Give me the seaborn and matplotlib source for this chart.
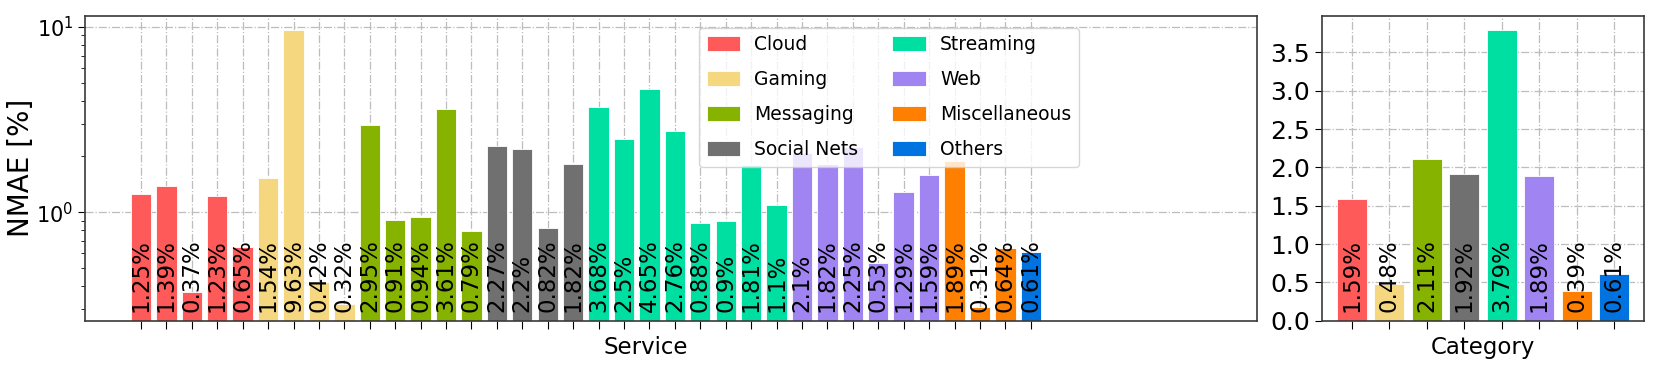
import numpy as np
import pandas as pd
import seaborn as sns
import matplotlib.pyplot as plt
from matplotlib import transforms

# NMAE per service (left) and per category (right)

categories = ['Cloud', 'Gaming', 'Messaging', 'Social Nets',
              'Streaming', 'Web', 'Miscellaneous', 'Others']
colors = ['#ff5a5a', '#f5d77f', '#86b300', '#707070',
          '#00dfa2', '#a084f2', '#ff8000', '#0073e0']

cloud = [1.25, 1.39, 0.37, 1.23, 0.65]
gaming = [1.54, 9.63, 0.42, 0.32]
messaging = [2.95, 0.91, 0.94, 3.61, 0.79]
social = [2.27, 2.2, 0.82, 1.82]
streaming = [3.68, 2.5, 4.65, 2.76, 0.88, 0.9, 1.81, 1.1]
web = [2.1, 1.82, 2.25, 0.53, 1.29, 1.59]
misc = [1.89, 0.31, 0.64]
others = [0.61]

category_nmae = [1.59, 0.48, 2.11, 1.92, 3.79, 1.89, 0.39, 0.61]

groups = [cloud, gaming, messaging, social, streaming, web, misc, others]
vals = []
cats = []
for c, g in zip(categories, groups):
    vals += g
    cats += [c] * len(g)
df = pd.DataFrame({'service': list(range(len(vals))), 'nmae': vals, 'cat': cats})
df_cat = pd.DataFrame({'cat': categories, 'nmae': category_nmae})

palette = dict(zip(categories, colors))

sns.set_style('white')
plt.rcParams['font.family'] = ['DejaVu Sans']
plt.rcParams['text.color'] = 'black'
plt.rcParams['axes.labelcolor'] = 'black'
plt.rcParams['xtick.color'] = 'black'
plt.rcParams['ytick.color'] = 'black'
plt.rcParams['axes.edgecolor'] = '#3a3a3a'

fig = plt.figure(figsize=(16.61, 3.74), dpi=100)
ax = fig.add_axes([0.0512, 0.1425, 0.7056, 0.8155])
ax2 = fig.add_axes([0.7959, 0.1425, 0.1939, 0.8155])

sns.barplot(data=df, x='service', y='nmae', hue='cat', hue_order=categories,
            palette=palette, dodge=False, width=0.8, saturation=1,
            edgecolor='white', linewidth=0.6, ax=ax)
ax.set_yscale('log')
ax.set_ylim(0.26, 11.5)
ax.set_xlim(-2.2, 43.9)

sns.barplot(data=df_cat, x='cat', y='nmae', hue='cat', hue_order=categories,
            palette=palette, dodge=False, width=0.8, saturation=1,
            edgecolor='white', linewidth=0.6, legend=False, ax=ax2)
ax2.set_xlim(-0.8, 7.8)
ax2.set_ylim(0, 3.98)
ax2.set_yticks(np.arange(0, 3.6, 0.5))

for a, values in [(ax, vals), (ax2, category_nmae)]:
    trans = transforms.blended_transform_factory(a.transData, a.transAxes)
    for i, v in enumerate(values):
        a.text(i, 0.03, str(v) + '%', rotation=90, ha='center', va='bottom',
               fontsize=16.5, transform=trans, zorder=5)
    a.grid(True, which='major', linestyle='-.', color='#bdbdbd', linewidth=0.9)
    a.set_axisbelow(True)
    a.set_xticklabels([])
    a.tick_params(axis='both', which='both', direction='out', bottom=True, left=True)
    a.tick_params(axis='x', length=6)
    a.tick_params(axis='y', which='major', length=5)
    a.tick_params(axis='y', which='minor', length=3)
    for s in a.spines.values():
        s.set_linewidth(1.2)

ax.tick_params(axis='y', labelsize=15)
ax2.tick_params(axis='y', labelsize=18)

ax.set_ylabel('NMAE [%]', fontsize=20)
ax.yaxis.set_label_coords(-0.043, 0.5)
ax.set_xlabel('Service', fontsize=16.5)
ax.xaxis.set_label_coords(0.478, -0.05)
ax2.set_xlabel('Category', fontsize=16.5)
ax2.xaxis.set_label_coords(0.5, -0.05)
ax2.set_ylabel('')

ax.legend(title=None, ncol=2, fontsize=13.5, loc='upper center',
          bbox_to_anchor=(0.686, 0.96), borderaxespad=0,
          handlelength=1.8, handleheight=0.85, handletextpad=0.75,
          columnspacing=1.8, labelspacing=0.85)

plt.savefig('out.png', dpi=100)
plt.close()
